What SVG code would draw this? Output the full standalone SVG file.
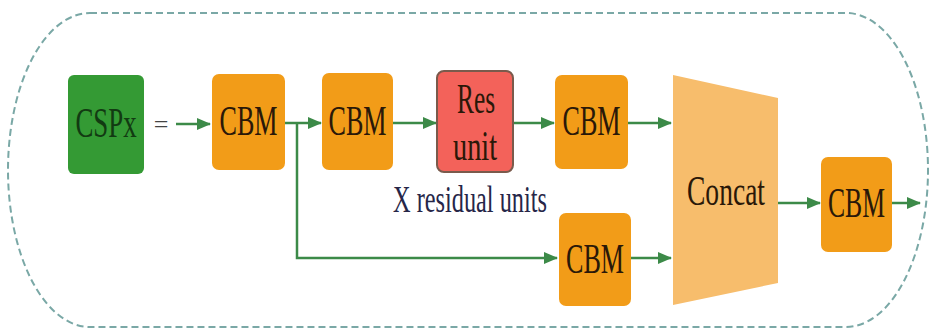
<svg xmlns="http://www.w3.org/2000/svg" width="935" height="333" viewBox="0 0 935 333">
<defs>
<style>
.cbm{fill:#f29c18;}
.t{font-family:"Liberation Serif","Times New Roman",serif;font-size:42px;fill:#2a1808;text-anchor:middle;}
.c{stroke:#3c8a48;stroke-width:2.5;fill:none;}
</style>
<marker id="ah" markerWidth="14" markerHeight="12" refX="13" refY="6" orient="auto" markerUnits="userSpaceOnUse">
<path d="M0,0 L14,6 L0,12 Z" fill="#3c8a48"/>
</marker>
</defs>
<rect width="935" height="333" fill="#ffffff"/>
<rect id="container" x="8" y="13" width="920" height="314" rx="82" ry="157" fill="none" stroke="#7aa8a6" stroke-width="2" stroke-dasharray="7,4"/>
<g id="connectors">
<path class="c" d="M176,124 H210" marker-end="url(#ah)"/>
<path class="c" d="M285,123 H321" marker-end="url(#ah)"/>
<path class="c" d="M297,123 V258 H557" marker-end="url(#ah)"/>
<path class="c" d="M393,123 H436" marker-end="url(#ah)"/>
<path class="c" d="M513,123 H554" marker-end="url(#ah)"/>
<path class="c" d="M628,123 H671" marker-end="url(#ah)"/>
<path class="c" d="M631,258 H671" marker-end="url(#ah)"/>
<path class="c" d="M778,203 H820" marker-end="url(#ah)"/>
<path class="c" d="M892,203 H920" marker-end="url(#ah)"/>
</g>
<text x="161" y="133" font-family="Liberation Serif, serif" font-size="26" fill="#444" text-anchor="middle">=</text>
<g id="cspx">
<rect x="68" y="75" width="76" height="99" rx="6" fill="#349a34"/>
<text class="t" transform="translate(106,137) scale(0.64,1)" x="0" y="0" style="fill:#123a12">CSPx</text>
</g>
<g id="cbm1">
<rect class="cbm" x="212" y="74" width="73" height="96" rx="7"/>
<text class="t" x="248.5" y="135" textLength="58" lengthAdjust="spacingAndGlyphs">CBM</text>
</g>
<g id="cbm2">
<rect class="cbm" x="322" y="73" width="71" height="97" rx="7"/>
<text class="t" x="357.5" y="135" textLength="58" lengthAdjust="spacingAndGlyphs">CBM</text>
</g>
<g id="resunit">
<rect x="437" y="71" width="76" height="101" rx="7" fill="#f3625a" stroke="#7a5a4c" stroke-width="2"/>
<text class="t" x="476" y="113" textLength="38" lengthAdjust="spacingAndGlyphs">Res</text>
<text class="t" x="475" y="160" textLength="44" lengthAdjust="spacingAndGlyphs">unit</text>
</g>
<text id="xres" x="470" y="212" font-family="Liberation Serif, serif" font-size="38" fill="#262648" text-anchor="middle" textLength="154" lengthAdjust="spacingAndGlyphs">X residual units</text>
<g id="cbm3">
<rect class="cbm" x="555" y="75" width="73" height="94" rx="7"/>
<text class="t" x="591.5" y="135" textLength="58" lengthAdjust="spacingAndGlyphs">CBM</text>
</g>
<g id="cbm4">
<rect class="cbm" x="559" y="213" width="72" height="93" rx="7"/>
<text class="t" x="595" y="273" textLength="58" lengthAdjust="spacingAndGlyphs">CBM</text>
</g>
<g id="concat">
<polygon points="673,75 778,98 778,283 673,305" fill="#f7bd6c"/>
<text class="t" x="726" y="205" textLength="78" lengthAdjust="spacingAndGlyphs">Concat</text>
</g>
<g id="cbm5">
<rect class="cbm" x="821" y="157" width="71" height="95" rx="7"/>
<text class="t" x="856.5" y="217" textLength="57" lengthAdjust="spacingAndGlyphs">CBM</text>
</g>
</svg>
